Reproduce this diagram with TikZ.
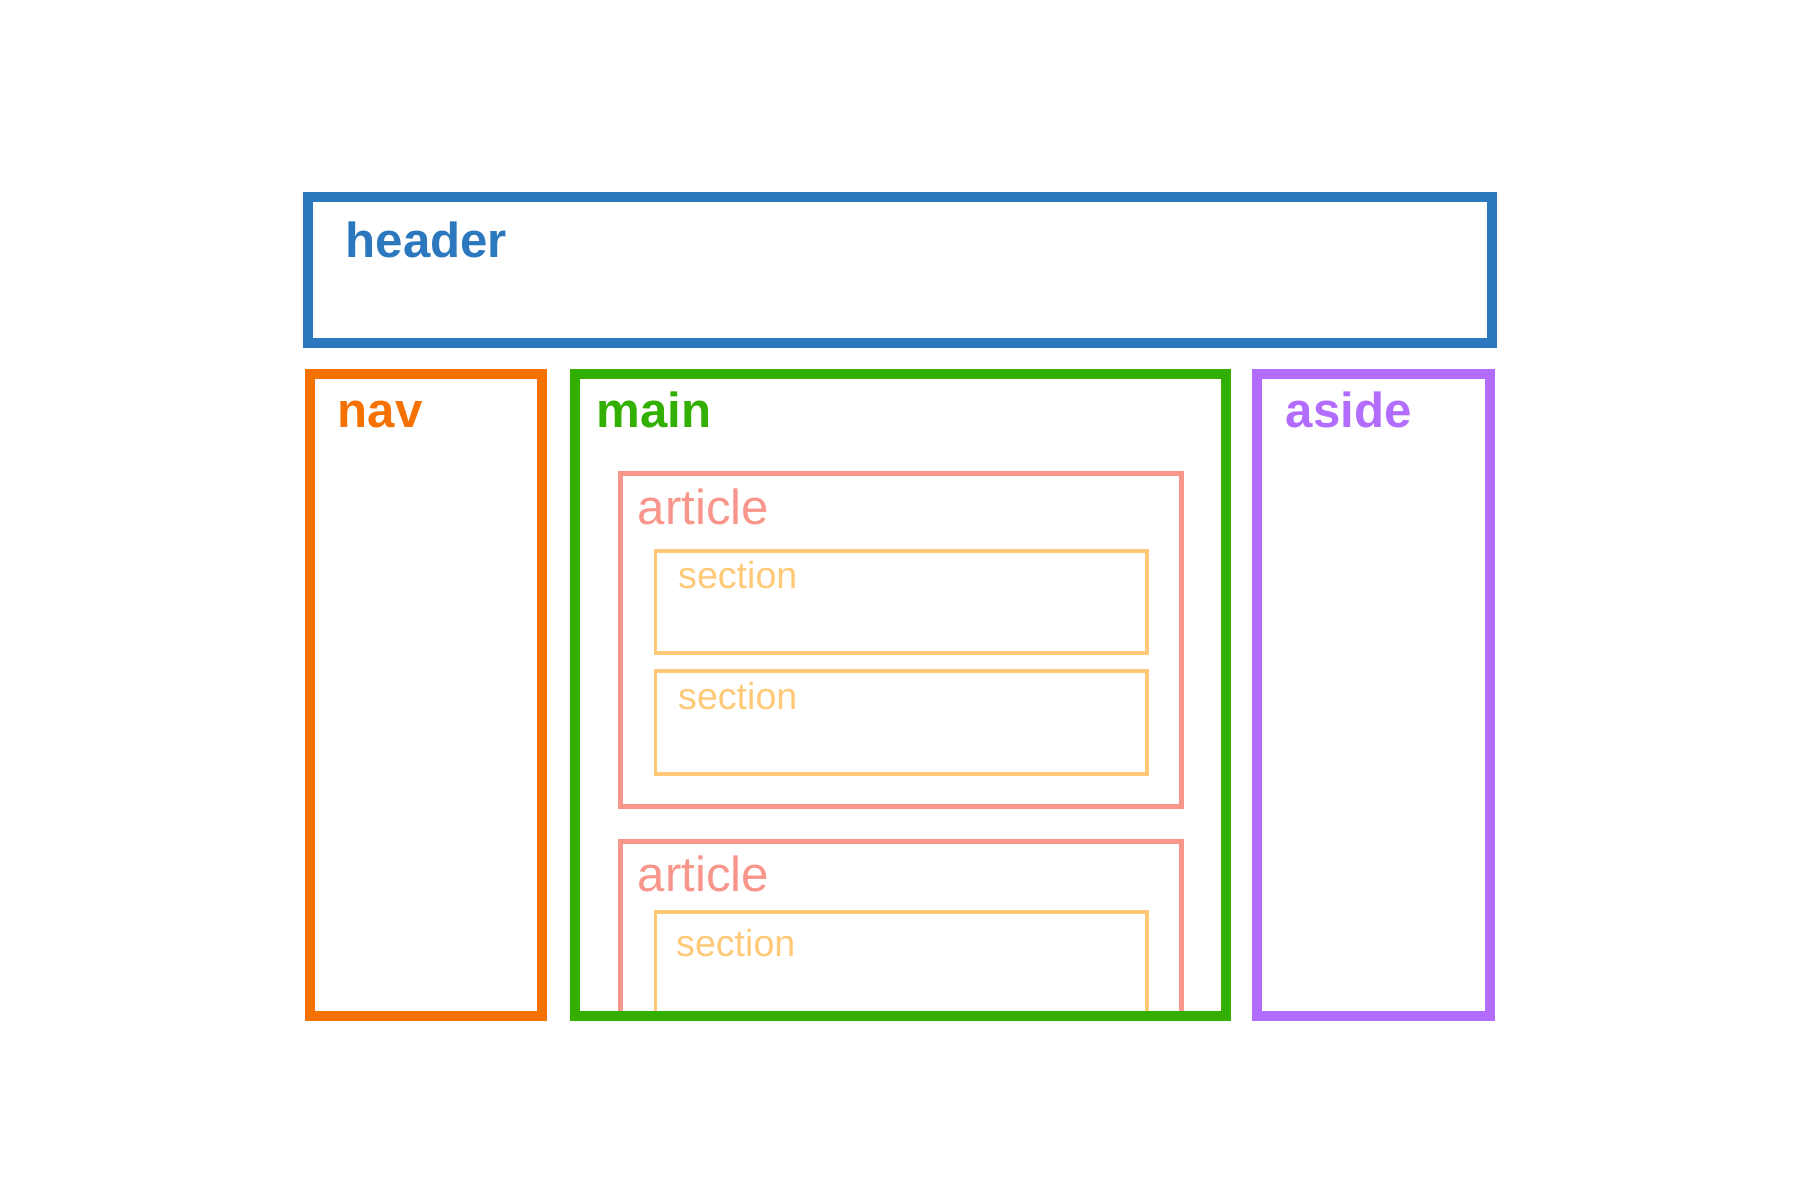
\documentclass[tikz,border=0pt]{standalone}
\usepackage{fontspec}
\setmainfont{Liberation Sans}
\usepackage{tikz}
\usetikzlibrary{positioning,calc}

\definecolor{hdrblue}{RGB}{43,120,190}
\definecolor{navorange}{RGB}{245,114,0}
\definecolor{maingreen}{RGB}{51,175,0}
\definecolor{asidepurple}{RGB}{178,109,255}
\definecolor{artsalmon}{RGB}{249,150,139}
\definecolor{secyellow}{RGB}{255,201,120}

\begin{document}
\begin{tikzpicture}[
  region/.style={draw=#1,line width=1mm,inner sep=0pt,outer sep=0pt,anchor=north west},
  artbox/.style={draw=artsalmon,line width=0.5mm,inner sep=0pt,outer sep=0pt,anchor=north west,
    minimum width=5.61cm},
  secbox/.style={draw=secyellow,line width=0.33mm,inner sep=0pt,outer sep=0pt,anchor=north west,
    minimum width=4.915cm},
  tag/.style={anchor=base west,inner sep=0pt,text=#1,font=\bfseries\fontsize{14}{16}\selectfont},
  arttag/.style={anchor=base west,inner sep=0pt,text=artsalmon,font=\fontsize{14}{16}\selectfont},
  sectag/.style={anchor=base west,inner sep=0pt,text=secyellow,font=\fontsize{10.7}{13}\selectfont},
]
\useasboundingbox (0,0) rectangle (18,12);

% page regions
\node[region=hdrblue,minimum width=11.84cm,minimum height=1.46cm] (header) at (3.08,10.03) {};
\node[region=navorange,minimum width=2.32cm,minimum height=6.415cm] (nav) at (3.10,8.255) {};
\node[region=maingreen,minimum width=6.515cm,minimum height=6.415cm] (main) at (5.745,8.255) {};
\node[region=asidepurple,minimum width=2.33cm,minimum height=6.415cm] (aside) at (12.57,8.255) {};

\node[tag=hdrblue] (header-lbl) at ($(header.north west)+(0.37,-0.61)$) {header};
\node[tag=navorange] (nav-lbl) at ($(nav.north west)+(0.27,-0.53)$) {nav};
\node[tag=maingreen] (main-lbl) at ($(main.north west)+(0.215,-0.53)$) {main};
\node[tag=asidepurple] (aside-lbl) at ($(aside.north west)+(0.28,-0.53)$) {aside};

% first article
\node[artbox,minimum height=3.33cm] (art1) at (6.20,7.26) {};
\node[arttag] (art1-lbl) at ($(art1.north west)+(0.17,-0.51)$) {article};
\node[secbox,minimum height=1.02cm] (sec1) at (6.555,6.49) {};
\node[sectag] (sec1-lbl) at ($(sec1.north west)+(0.22,-0.38)$) {section};
\node[secbox,minimum height=1.03cm,below=0.18cm of sec1.south west,anchor=north west] (sec2) {};
\node[sectag] (sec2-lbl) at ($(sec2.north west)+(0.22,-0.39)$) {section};

% second article, cut off by main
\begin{scope}
\clip (main.north west) rectangle ([yshift=0.05cm]main.south east);
\node[artbox,minimum height=3cm] (art2) at (6.20,3.585) {};
\node[secbox,minimum height=2cm] (sec3) at (6.555,2.88) {};
\end{scope}
\node[arttag] (art2-lbl) at ($(art2.north west)+(0.17,-0.505)$) {article};
\node[sectag] (sec3-lbl) at ($(sec3.north west)+(0.20,-0.45)$) {section};
\end{tikzpicture}
\end{document}
